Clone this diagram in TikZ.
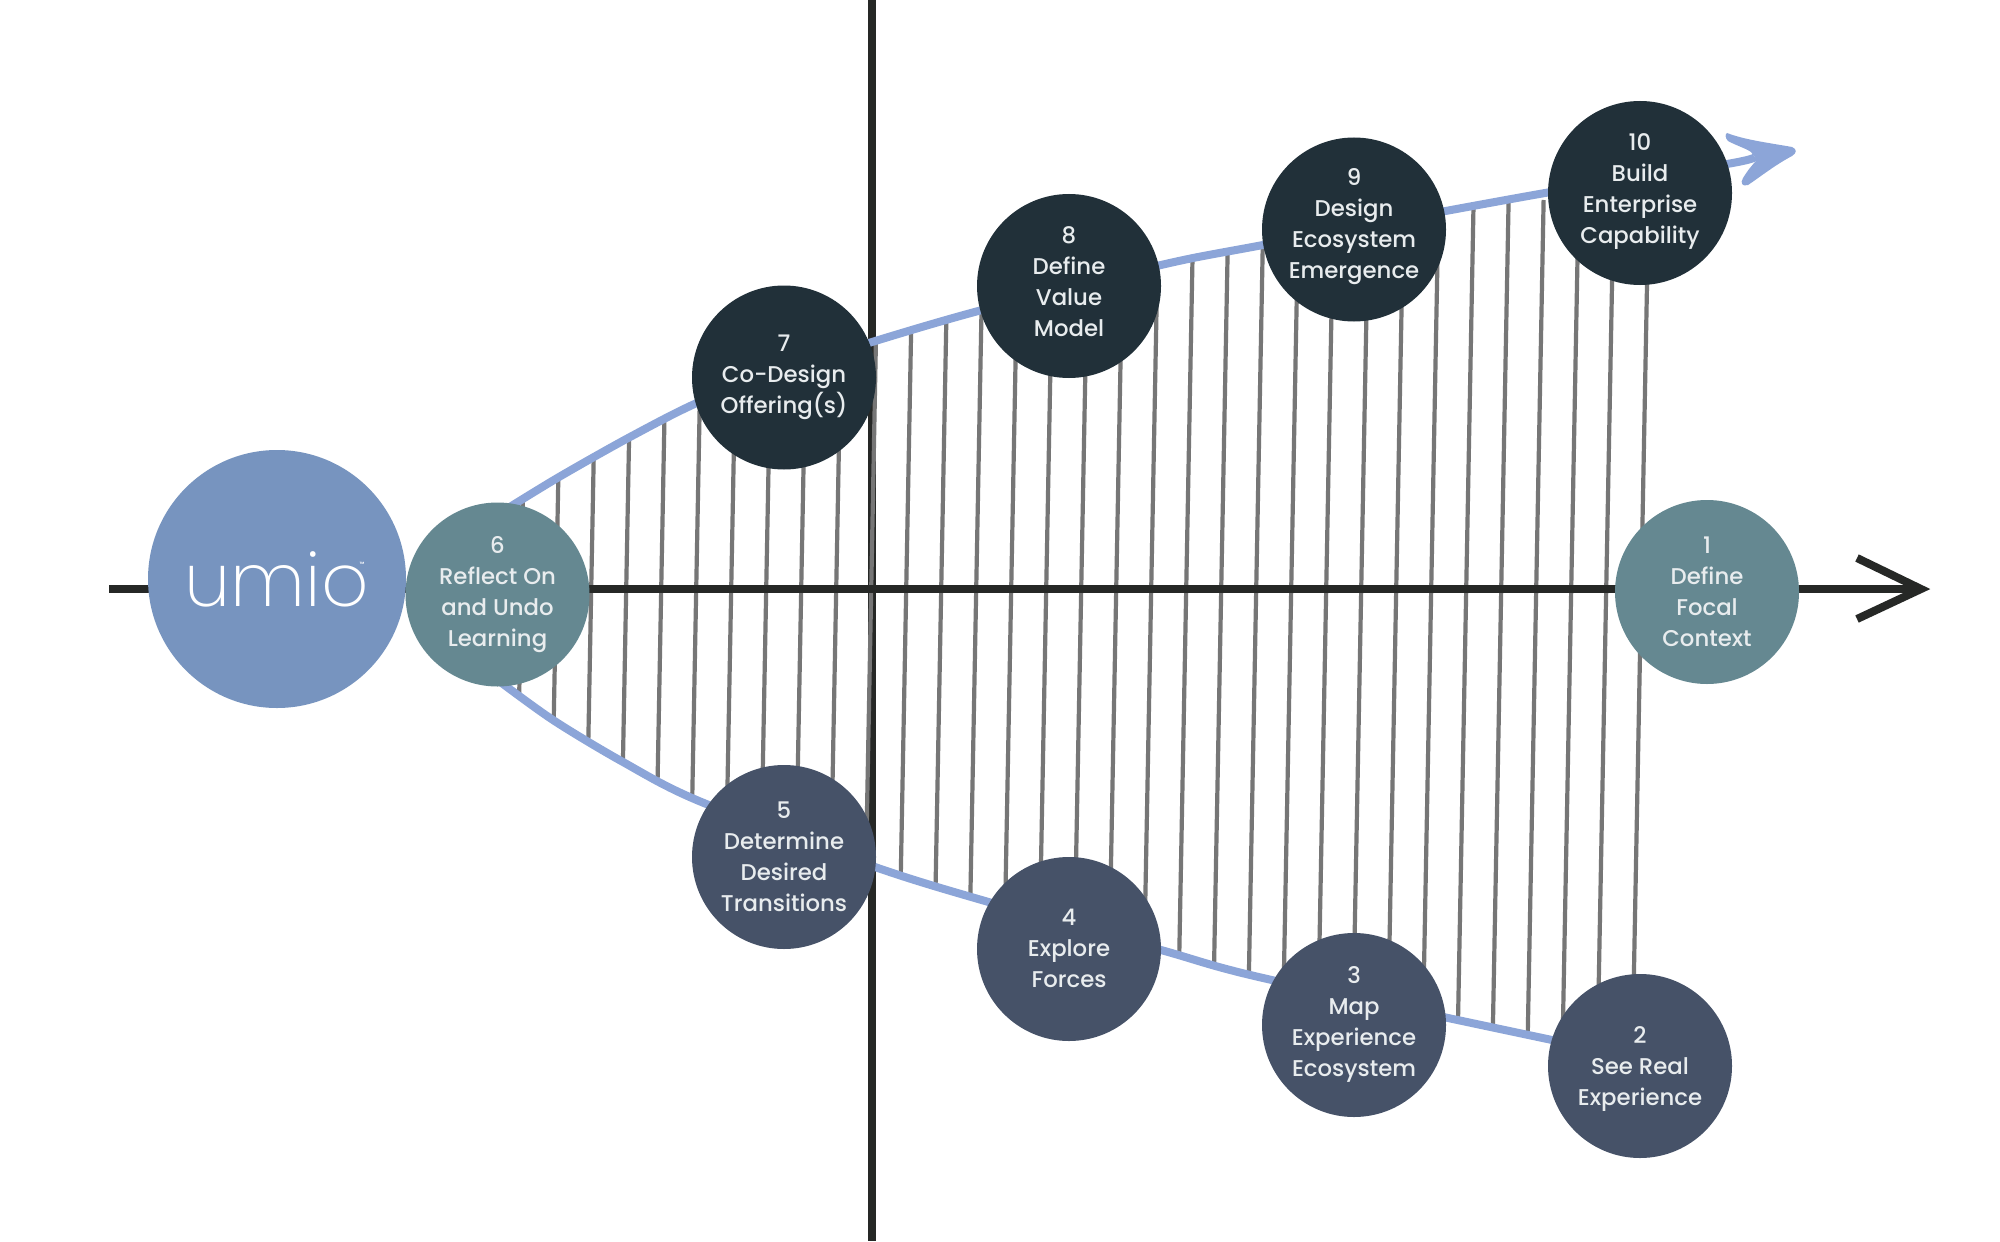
\documentclass[tikz,border=0pt]{standalone}
\usepackage{fontspec}
\setmainfont{Poppins Medium}
\newfontfamily\umiofont{Poppins ExtraLight}
\definecolor{logoblue}{HTML}{7794BF}
\definecolor{teal}{HTML}{658891}
\definecolor{darknavy}{HTML}{213039}
\definecolor{slatenavy}{HTML}{465268}
\definecolor{curveblue}{HTML}{8CA5D8}
\definecolor{hatchgrey}{HTML}{767676}
\definecolor{axisblack}{HTML}{262826}
\definecolor{labelwhite}{HTML}{E8ECEE}
\newcommand{\lbl}[2]{\raisebox{\dimexpr#1pt-2.5pt\relax}[0pt][0pt]{\makebox[0pt]{\parbox{88pt}{\centering\fontsize{11.4}{15.5}\selectfont #2}}}}
\tikzset{
  stage/.style={circle,minimum size=92pt,inner sep=0pt,text=labelwhite,align=center},
  tealstage/.style={stage,fill=teal},
  darkstage/.style={stage,fill=darknavy},
  slatestage/.style={stage,fill=slatenavy},
  axisline/.style={draw=axisblack,line width=4pt},
  curveline/.style={draw=curveblue,line width=4pt},
  hatchline/.style={draw=hatchgrey,line width=2.1pt}
}
\begin{document}
\begin{tikzpicture}[x=0.5pt,y=-0.5pt]
\useasboundingbox[fill=white] (0,0) rectangle (2000,1241);
% vertical axis
\coordinate (vtop) at (872,0);
\coordinate (vbot) at (872,1241);
\draw[axisline] (vtop) -- (vbot);
% hatching between the curves
\begin{scope}
\clip plot[smooth,tension=0.5] coordinates {(505,510) (559,477) (630,437) (699,402) (780,372) (872,342) (982,310) (1161,265) (1263,245) (1545,193) (1727,164) (1755,157)}
  -- plot[smooth,tension=0.5] coordinates {(1650,1060) (1552,1040) (1263,978) (1161,950) (992,903) (875,867) (699,801) (623,762) (553,720) (495,678)} -- cycle;
\foreach \k in {0,...,32}{
  \draw[hatchline] ({1647-35*\k+1.6},200) -- ({1647-35*\k-15.5},1100);
}
\end{scope}
% horizontal axis
\coordinate (hleft) at (109,589);
\coordinate (hvertex) at (1921,589);
\coordinate (htop) at (1857,558);
\coordinate (hbot) at (1857,619);
\draw[axisline] (hleft) -- (hvertex);
\draw[axisline,miter limit=10] (htop) -- (hvertex) -- (hbot);
% blue curves
\draw[curveline] plot[smooth,tension=0.5] coordinates {(505,510) (559,477) (630,437) (699,402) (780,372) (872,342) (982,310) (1161,265) (1263,245) (1545,193) (1727,164) (1755,157)};
\draw[curveline] plot[smooth,tension=0.5] coordinates {(495,678) (553,720) (623,762) (699,801) (875,867) (992,903) (1161,950) (1263,978) (1552,1040) (1650,1060)};
\fill[curveblue] (1727,133) .. controls (1745,140) and (1770,143) .. (1792,147)
  .. controls (1797,149) and (1797,153) .. (1792,156)
  .. controls (1775,165) and (1760,177) .. (1748,185)
  .. controls (1742,187) and (1740,183) .. (1743,178)
  .. controls (1748,170) and (1752,165) .. (1757,160)
  -- (1751,152) .. controls (1745,148) and (1735,145) .. (1728,141)
  .. controls (1725,138) and (1725,134) .. (1727,133) -- cycle;
% logo
\node[circle,minimum size=129pt,inner sep=0pt,fill=logoblue,text=white] (logo) at (277,579)
  {\fontsize{37}{37}\selectfont\umiofont umio};
\node[text=white,inner sep=0pt] (tm) at (362,564) {\fontsize{3}{4}\selectfont ™};
% stages
\node[tealstage]  (s1)  at (1707,592) {\lbl{0.3}{1\\Define\\Focal\\Context}};
\node[slatestage] (s2)  at (1640,1066) {\lbl{-1.3}{2\\See Real\\Experience}};
\node[slatestage] (s3)  at (1354,1025) {\lbl{0.3}{3\\Map\\Experience\\Ecosystem}};
\node[slatestage] (s4)  at (1069,949) {\lbl{0.3}{4\\Explore\\Forces}};
\node[slatestage] (s5)  at (784,857) {\lbl{0}{5\\Determine\\Desired\\Transitions}};
\node[tealstage]  (s6)  at (497.5,594.5) {\lbl{0.2}{6\\Reflect On\\and Undo\\Learning}};
\node[darkstage]  (s7)  at (784,377.5) {\lbl{0.3}{7\\Co-Design\\Offering(s)}};
\node[darkstage]  (s8)  at (1069,286) {\lbl{2.2}{8\\Define\\Value\\Model}};
\node[darkstage]  (s9)  at (1354,229.5) {\lbl{1.6}{9\\Design\\Ecosystem\\Emergence}};
\node[darkstage]  (s10) at (1640,193) {\lbl{0.9}{10\\Build\\Enterprise\\Capability}};
\end{tikzpicture}
\end{document}
